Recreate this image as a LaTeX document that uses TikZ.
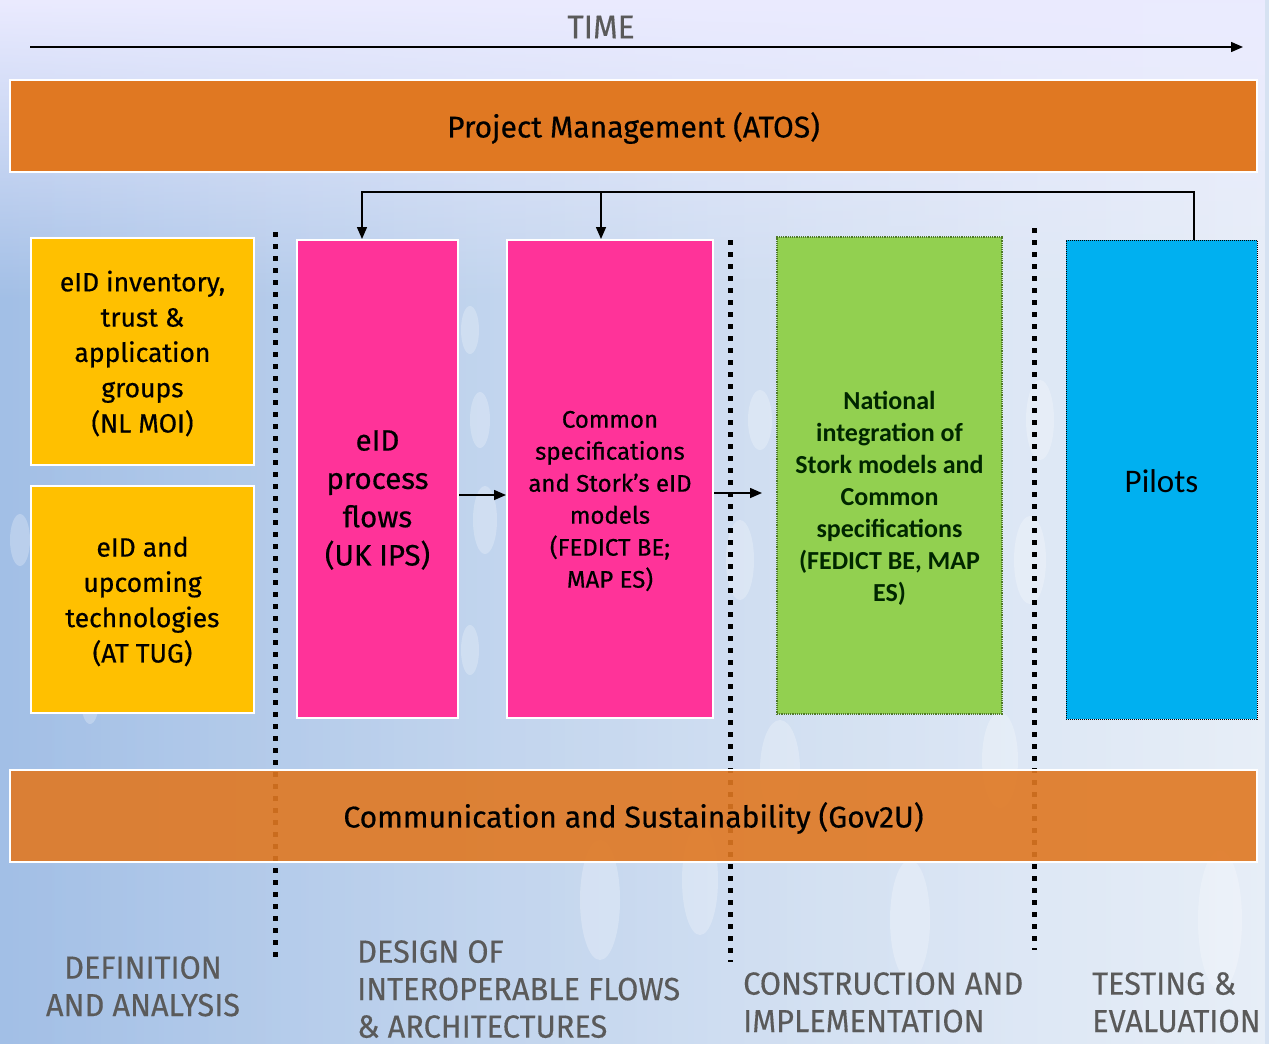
\documentclass[tikz,border=0pt]{standalone}
\usepackage{fontspec}
\setmainfont{Fira Sans}[FakeBold=0.5]
\newfontfamily\calfont{Carlito}
\newfontfamily\condfont{Fira Sans}[FakeStretch=0.96, FakeBold=0.3]
\usetikzlibrary{arrows.meta,calc,fadings}
\definecolor{bandorange}{HTML}{E07822}
\definecolor{boxyellow}{HTML}{FFC000}
\definecolor{boxpink}{HTML}{FF3399}
\definecolor{boxgreen}{HTML}{92D050}
\definecolor{boxblue}{HTML}{00B0F0}
\definecolor{greenedge}{HTML}{4F7A28}
\definecolor{labelgrey}{HTML}{5A5A5A}
\definecolor{bgL}{HTML}{A2BFE6}
\definecolor{bgR}{HTML}{D6E2F2}
\tikzfading[name=fadetop, top color=transparent!0, bottom color=transparent!100]
\tikzfading[name=faderight, left color=transparent!100, right color=transparent!30]
\begin{document}
\begin{tikzpicture}[x=1pt,y=-1pt,
  band/.style={draw=white, line width=2pt, fill=bandorange, inner sep=0pt},
  bandtext/.style={inner sep=0pt, font=\fontsize{30}{36}\selectfont},
  wbox/.style={draw=white, line width=2pt, inner sep=0pt},
  boxtext/.style={inner sep=0pt, align=center},
  arr/.style={draw=black, line width=1.5pt, -{Triangle[length=12pt,width=10pt]}},
  sep/.style={draw=black, line width=5pt, dash pattern=on 5pt off 7pt},
  phase/.style={text=labelgrey, align=left, anchor=north west, inner sep=0pt, font=\condfont\fontsize{32}{37.5}\selectfont},
  deco/.style={fill=white, opacity=0.25}
]
\useasboundingbox (0,0) rectangle (1269,1044);
% background
\shade[left color=bgL, right color=bgR] (0,0) rectangle (1269,1044);
\fill[white, path fading=faderight, opacity=0.6] (0,0) rectangle (1269,1044);
\fill[white!92!blue, path fading=fadetop] (0,0) rectangle (1269,300);
\foreach \cx/\cy/\rx/\ry in {60/300/9/22, 110/420/8/20, 20/540/10/26, 90/700/9/24, 240/610/8/22, 470/330/9/24, 480/420/10/28, 485/520/12/34, 470/650/9/25, 760/420/12/30, 740/560/14/40, 1040/420/14/40, 1030/560/16/44, 1190/620/14/38, 600/900/20/60, 700/880/18/55, 910/920/20/60, 1220/920/22/70, 780/770/20/50, 1000/760/18/48}{
  \fill[deco] (\cx,\cy) ellipse [x radius=\rx, y radius=\ry];
}
% time axis
\node[text=labelgrey, font=\condfont\fontsize{33}{36}\selectfont, inner sep=0pt] (time) at (601,27) {TIME};
\coordinate (t0) at (30,47);
\coordinate (t1) at (1243,47);
\draw[arr] (t0) -- (t1);
% phase separators (behind bands)
\coordinate (s1a) at (275,232); \coordinate (s1b) at (275,960);
\coordinate (s2a) at (730,240); \coordinate (s2b) at (730,962);
\coordinate (s3a) at (1034,228); \coordinate (s3b) at (1034,950);
\draw[sep] (s1a) -- (s1b);
\draw[sep] (s2a) -- (s2b);
\draw[sep] (s3a) -- (s3b);
% bands
\node[band, minimum width=1247pt, minimum height=92pt] (pm) at (633.5,126) {};
\node[bandtext] (pmt) at (633.5,128) {Project Management (ATOS)};
\node[band, minimum width=1247pt, minimum height=92pt, fill opacity=0.9] (cs) at (633.5,816) {};
\node[bandtext] (cst) at (633.5,818) {Communication and Sustainability (Gov2U)};
% yellow boxes
\node[wbox, fill=boxyellow, minimum width=223pt, minimum height=227pt] (y1) at (142.5,351.5) {};
\node[boxtext, font=\fontsize{26.5}{35.3}\selectfont] (y1t) at (142.5,353.5)
  {eID inventory,\\ trust \&\\ application\\ groups\\ (NL MOI)};
\node[wbox, fill=boxyellow, minimum width=223pt, minimum height=227pt] (y2) at (142.5,599.5) {};
\node[boxtext, font=\fontsize{26.5}{35.3}\selectfont] (y2t) at (142.5,601.5)
  {eID and\\ upcoming\\ technologies\\ (AT TUG)};
% pink boxes
\node[wbox, fill=boxpink, minimum width=161pt, minimum height=478pt] (p1) at (377.5,479) {};
\node[boxtext, font=\fontsize{29.5}{38.3}\selectfont] (p1t) at (377.5,500)
  {eID\\ process\\ flows\\ (UK IPS)};
\node[wbox, fill=boxpink, minimum width=206pt, minimum height=478pt] (p2) at (610,479) {};
\node[boxtext, font=\fontsize{24}{32}\selectfont] (p2t) at (610,501)
  {Common\\ specifications\\ and Stork's eID\\ models\\ (FEDICT BE;\\ MAP ES)};
% green box
\node[draw=greenedge, densely dotted, line width=1.2pt, fill=boxgreen, minimum width=225pt, minimum height=477pt, inner sep=0pt] (g) at (889.5,475.5) {};
\node[boxtext, text=black!85!green, font=\calfont\bfseries\fontsize{26}{32}\selectfont] (gt) at (889.5,498)
  {National\\ integration of\\ Stork models and\\ Common\\ specifications\\ (FEDICT BE, MAP\\ ES)};
% pilots
\node[draw=black, densely dotted, line width=1pt, fill=boxblue, minimum width=191pt, minimum height=479pt, inner sep=0pt] (pi) at (1161.5,479.5) {};
\node[inner sep=0pt, font=\calfont\fontsize{33}{36}\selectfont] (pit) at (1161.5,481) {Pilots};
% feedback connectors
\coordinate (fb) at (1194,240);
\coordinate (k1) at (362,192);
\coordinate (k2) at (601,192);
\draw[arr] (fb) |- (k1) -- (p1.north -| k1);
\draw[arr] (k2) -- (p2.north -| k2);
% forward arrows
\draw[arr] ($(p1.east)+(0,16)$) -- ($(p2.west)+(0,16)$);
\coordinate (ge) at (762,493);
\draw[arr] (p2.east |- ge) -- (ge);
% phase labels
\node[phase, align=center, anchor=north] (ph1) at (143,956) {DEFINITION\\AND ANALYSIS};
\node[phase] (ph2) at (357,940) {DESIGN OF\\INTEROPERABLE FLOWS\\\& ARCHITECTURES};
\node[phase] (ph3) at (743,972) {CONSTRUCTION AND\\IMPLEMENTATION};
\node[phase] (ph4) at (1092,972) {TESTING \&\\EVALUATION};
\end{tikzpicture}
\end{document}
